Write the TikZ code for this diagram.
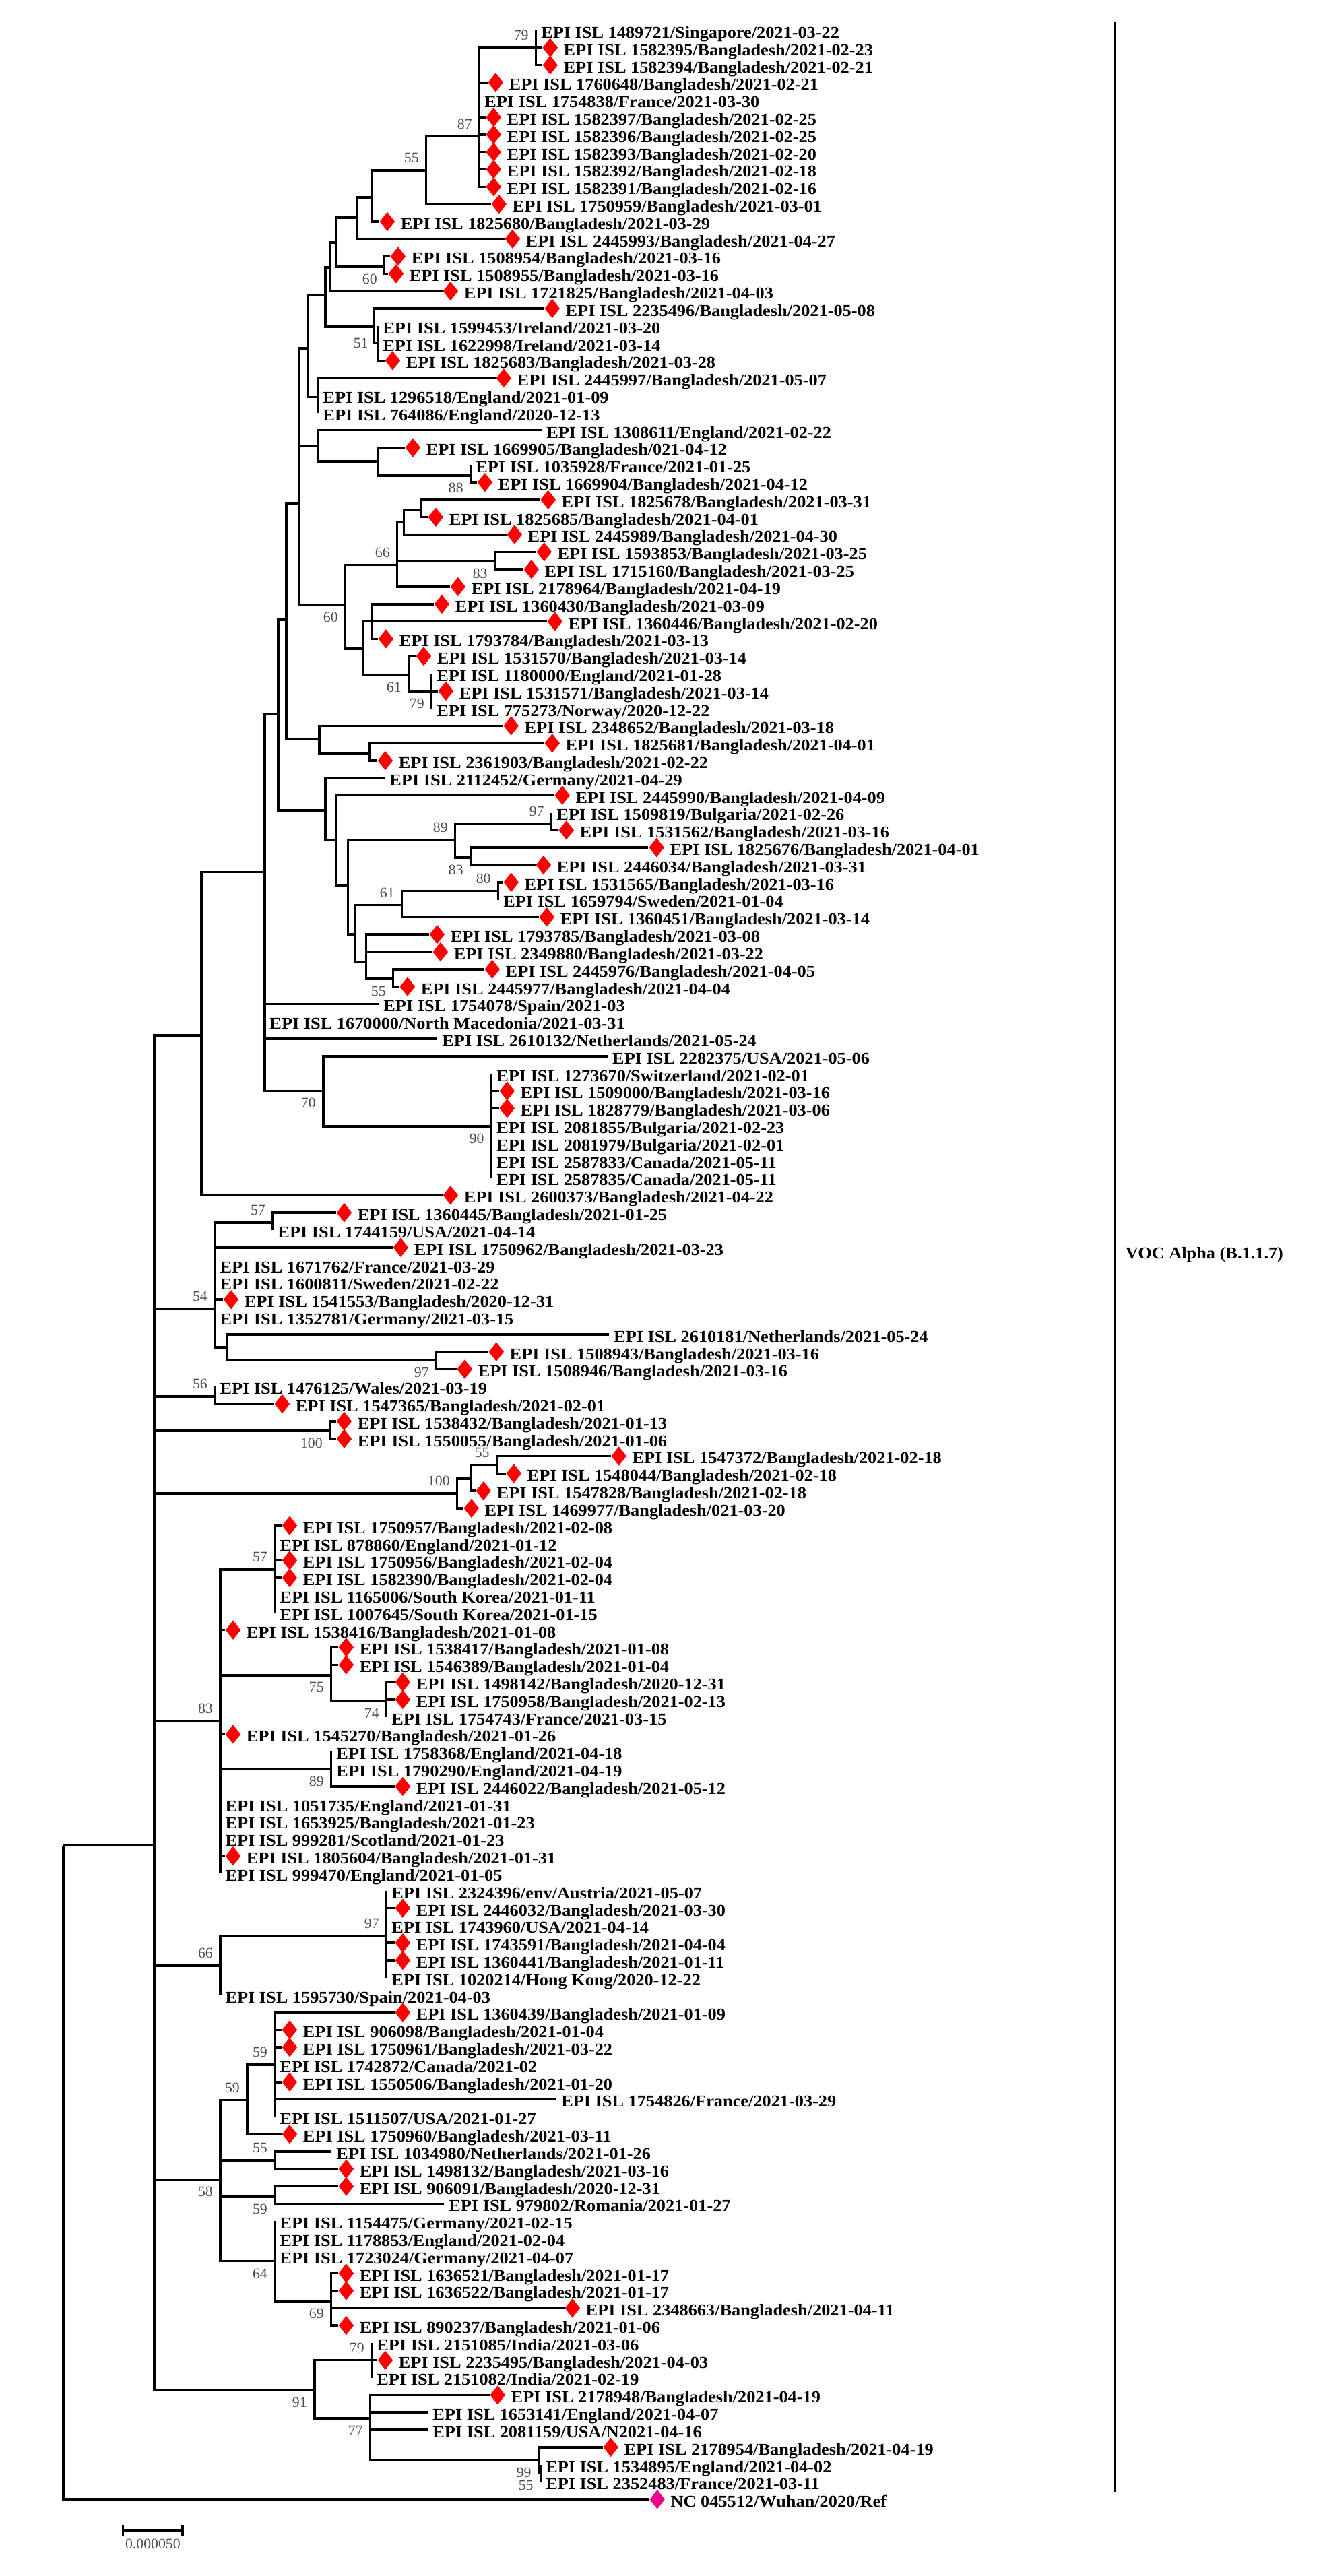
\documentclass[tikz,border=0pt]{standalone}
\usepackage{fontspec}
\setmainfont{Liberation Serif}[FakeStretch=1.07]
\newfontfamily\bsfont{Liberation Serif}
\usetikzlibrary{shapes.geometric,arrows.meta}
\tikzset{
  branch/.style={line width=1pt},
  leaf/.style={anchor=west, inner xsep=0.07cm, inner ysep=0pt, text height=0.7em, text depth=0.05em,
    font=\fontsize{7}{8}\selectfont\bfseries},
  bd/.style={diamond, fill=red, anchor=west, inner sep=0pt, minimum width=0.23cm, minimum height=0.29cm},
  refd/.style={bd, fill=magenta},
  bs/.style={font=\bsfont\fontsize{6.2}{7}\selectfont, text=black!70, inner sep=0.8pt},
  bsa/.style={label={[bs]above left:#1}},
  bsb/.style={label={[bs]below left:#1}},
  bsl/.style={label={[bs]left:#1}},
  voc/.style={anchor=west, inner xsep=0.15cm, font=\fontsize{7}{8}\selectfont\bfseries},
}
\begin{document}
\begin{tikzpicture}[x=0.01cm, y=-0.2581cm, label distance=3pt]
\useasboundingbox (0,-0.7435) rectangle (1959,147.41);

% leaves without marker
\foreach \rw/\xx/\tx in {
1/796/{1489721/Singapore/2021-03-22},
5/712/{1754838/France/2021-03-30},
18/561/{1599453/Ireland/2021-03-20},
19/561/{1622998/Ireland/2021-03-14},
22/472/{1296518/England/2021-01-09},
23/472/{764086/England/2020-12-13},
24/804/{1308611/England/2021-02-22},
26/699/{1035928/France/2021-01-25},
38/641/{1180000/England/2021-01-28},
40/641/{775273/Norway/2020-12-22},
44/571/{2112452/Germany/2021-04-29},
46/819/{1509819/Bulgaria/2021-02-26},
51/740/{1659794/Sweden/2021-01-04},
57/562/{1754078/Spain/2021-03},
58/393/{1670000/North Macedonia/2021-03-31},
59/649/{2610132/Netherlands/2021-05-24},
60/902/{2282375/USA/2021-05-06},
61/730/{1273670/Switzerland/2021-02-01},
64/730/{2081855/Bulgaria/2021-02-23},
65/730/{2081979/Bulgaria/2021-02-01},
66/730/{2587833/Canada/2021-05-11},
67/730/{2587835/Canada/2021-05-11},
70/405/{1744159/USA/2021-04-14},
72/319/{1671762/France/2021-03-29},
73/319/{1600811/Sweden/2021-02-22},
75/319/{1352781/Germany/2021-03-15},
76/904/{2610181/Netherlands/2021-05-24},
79/319/{1476125/Wales/2021-03-19},
88/408/{878860/England/2021-01-12},
91/408/{1165006/South Korea/2021-01-11},
92/408/{1007645/South Korea/2021-01-15},
98/574/{1754743/France/2021-03-15},
100/492/{1758368/England/2021-04-18},
101/492/{1790290/England/2021-04-19},
103/327/{1051735/England/2021-01-31},
104/327/{1653925/Bangladesh/2021-01-23},
105/327/{999281/Scotland/2021-01-23},
107/327/{999470/England/2021-01-05},
108/574/{2324396/env/Austria/2021-05-07},
110/574/{1743960/USA/2021-04-14},
113/574/{1020214/Hong Kong/2020-12-22},
114/327/{1595730/Spain/2021-04-03},
118/408/{1742872/Canada/2021-02},
120/826/{1754826/France/2021-03-29},
121/408/{1511507/USA/2021-01-27},
123/492/{1034980/Netherlands/2021-01-26},
126/659/{979802/Romania/2021-01-27},
127/408/{1154475/Germany/2021-02-15},
128/408/{1178853/England/2021-02-04},
129/408/{1723024/Germany/2021-04-07},
134/552/{2151085/India/2021-03-06},
136/552/{2151082/India/2021-02-19},
138/635/{1653141/England/2021-04-07},
139/635/{2081159/USA/N2021-04-16},
141/803/{1534895/England/2021-04-02},
142/803/{2352483/France/2021-03-11}}
  \node[leaf] (l\rw) at (\xx,\rw) {EPI ISL \tx};

% leaves with red marker
\foreach \rw/\xx/\tx in {
2/805/{1582395/Bangladesh/2021-02-23},
3/805/{1582394/Bangladesh/2021-02-21},
4/724/{1760648/Bangladesh/2021-02-21},
6/721/{1582397/Bangladesh/2021-02-25},
7/721/{1582396/Bangladesh/2021-02-25},
8/721/{1582393/Bangladesh/2021-02-20},
9/721/{1582392/Bangladesh/2021-02-18},
10/721/{1582391/Bangladesh/2021-02-16},
11/729/{1750959/Bangladesh/2021-03-01},
12/563/{1825680/Bangladesh/2021-03-29},
13/749/{2445993/Bangladesh/2021-04-27},
14/579/{1508954/Bangladesh/2021-03-16},
15/576/{1508955/Bangladesh/2021-03-16},
16/657/{1721825/Bangladesh/2021-04-03},
17/808/{2235496/Bangladesh/2021-05-08},
20/571/{1825683/Bangladesh/2021-03-28},
21/736/{2445997/Bangladesh/2021-05-07},
25/601/{1669905/Bangladesh/021-04-12},
27/708/{1669904/Bangladesh/2021-04-12},
28/802/{1825678/Bangladesh/2021-03-31},
29/635/{1825685/Bangladesh/2021-04-01},
30/752/{2445989/Bangladesh/2021-04-30},
31/796/{1593853/Bangladesh/2021-03-25},
32/777/{1715160/Bangladesh/2021-03-25},
33/668/{2178964/Bangladesh/2021-04-19},
34/644/{1360430/Bangladesh/2021-03-09},
35/812/{1360446/Bangladesh/2021-02-20},
36/561/{1793784/Bangladesh/2021-03-13},
37/617/{1531570/Bangladesh/2021-03-14},
39/650/{1531571/Bangladesh/2021-03-14},
41/747/{2348652/Bangladesh/2021-03-18},
42/808/{1825681/Bangladesh/2021-04-01},
43/560/{2361903/Bangladesh/2021-02-22},
45/823/{2445990/Bangladesh/2021-04-09},
47/829/{1531562/Bangladesh/2021-03-16},
48/963/{1825676/Bangladesh/2021-04-01},
49/795/{2446034/Bangladesh/2021-03-31},
50/747/{1531565/Bangladesh/2021-03-16},
52/800/{1360451/Bangladesh/2021-03-14},
53/637/{1793785/Bangladesh/2021-03-08},
54/642/{2349880/Bangladesh/2021-03-22},
55/719/{2445976/Bangladesh/2021-04-05},
56/593/{2445977/Bangladesh/2021-04-04},
62/741/{1509000/Bangladesh/2021-03-16},
63/741/{1828779/Bangladesh/2021-03-06},
68/657/{2600373/Bangladesh/2021-04-22},
69/499/{1360445/Bangladesh/2021-01-25},
71/583/{1750962/Bangladesh/2021-03-23},
74/331/{1541553/Bangladesh/2020-12-31},
77/725/{1508943/Bangladesh/2021-03-16},
78/678/{1508946/Bangladesh/2021-03-16},
80/407/{1547365/Bangladesh/2021-02-01},
81/499/{1538432/Bangladesh/2021-01-13},
82/499/{1550055/Bangladesh/2021-01-06},
83/907/{1547372/Bangladesh/2021-02-18},
84/751/{1548044/Bangladesh/2021-02-18},
85/706/{1547828/Bangladesh/2021-02-18},
86/688/{1469977/Bangladesh/021-03-20},
87/418/{1750957/Bangladesh/2021-02-08},
89/418/{1750956/Bangladesh/2021-02-04},
90/418/{1582390/Bangladesh/2021-02-04},
93/334/{1538416/Bangladesh/2021-01-08},
94/502/{1538417/Bangladesh/2021-01-08},
95/502/{1546389/Bangladesh/2021-01-04},
96/586/{1498142/Bangladesh/2020-12-31},
97/586/{1750958/Bangladesh/2021-02-13},
99/334/{1545270/Bangladesh/2021-01-26},
102/586/{2446022/Bangladesh/2021-05-12},
106/334/{1805604/Bangladesh/2021-01-31},
109/586/{2446032/Bangladesh/2021-03-30},
111/586/{1743591/Bangladesh/2021-04-04},
112/586/{1360441/Bangladesh/2021-01-11},
115/586/{1360439/Bangladesh/2021-01-09},
116/418/{906098/Bangladesh/2021-01-04},
117/418/{1750961/Bangladesh/2021-03-22},
119/418/{1550506/Bangladesh/2021-01-20},
122/418/{1750960/Bangladesh/2021-03-11},
124/502/{1498132/Bangladesh/2021-03-16},
125/502/{906091/Bangladesh/2020-12-31},
130/502/{1636521/Bangladesh/2021-01-17},
131/502/{1636522/Bangladesh/2021-01-17},
132/838/{2348663/Bangladesh/2021-04-11},
133/502/{890237/Bangladesh/2021-01-06},
135/560/{2235495/Bangladesh/2021-04-03},
137/727/{2178948/Bangladesh/2021-04-19},
140/895/{2178954/Bangladesh/2021-04-19}}
  {\node[bd] (l\rw) at (\xx,\rw) {};
   \node[leaf] (t\rw) at (l\rw.east) {EPI ISL \tx};}

% reference genome
\node[refd] (l143) at (964,143) {};
\node[leaf] (t143) at (l143.east) {NC 045512/Wuhan/2020/Ref};

% inner nodes, bootstrap above
\foreach \nm/\xx/\rw/\bv in {b79a/796/2/79, b87/712/7.1/87, b55a/633/9.05/55,
  b66a/590/31.75/66, b97a/819/46.64/97, b89a/676/47.57/89, b80/740/50.5/80,
  b61b/597/51.3/61, b57a/405/69.58/57, b54/319/74.54/54, b56/319/79.57/56,
  b55c/738/83.5/55, b100b/679/85.15/100, b57b/408/89.53/57, b83c/327/98.25/83,
  b97c/574/110.6/97, b66b/327/112.3/66, b59a/408/118/59, b59b/367/120.03/59,
  b55d/408/123.5/55, b79c/552/135/79}
  \coordinate[bsa=\bv] (\nm) at (\xx,\rw);
% inner nodes, bootstrap below
\foreach \nm/\xx/\rw/\bv in {b60a/571/14.6/60, b88/699/26.6/88, b83a/735/31.55/83,
  b60b/513/34.05/60, b61a/607/38.1/61, b79b/641/39/79, b83b/699/48.58/83,
  b55b/584/55.55/55, b70/480/62/70, b90/730/64.04/90, b97b/648/77.5/97,
  b100a/490/81.55/100, b75/492/95.6/75, b74/574/97.1/74, b89b/492/101/89,
  b58/327/124.6/58, b59c/408/125.6/59, b64/408/129.3/64, b69/492/131.6/69,
  b91/467/136.7/91, b77/550/138.35/77, b99/800/140.75/99, b55e/803/141.5/55}
  \coordinate[bsb=\bv] (\nm) at (\xx,\rw);
\coordinate[bsl=51] (b51) at (561,19);
% inner nodes without support value
\foreach \nm/\xx/\rw in {u1/553/10.6, u2/531/11.77, u3/500/13.2, u4/490/14.64,
  u5/556/18.05, u6/483/16.23, u7/472/22.1, u8/457/19.29, u9/561/25.8, u10/472/24.9,
  u11/625/28.6, u12/600/29.28, u13/553/35, u14/539/36.57, u15/444/28.2, u16/549/42.6,
  u17/474/41.76, u18/425/34.9, u19/544/54.58, u20/528/53, u21/517/50.2, u22/500/47.57,
  u23/483/45.87, u24/413/40.3, u25/393/49.4, u26/299/58.8, u27/337/76.75, u28/699/84.3,
  u29/229/105.4, root/94/105.4}
  \coordinate (\nm) at (\xx,\rw);

% branches
\foreach \pa/\chs in {
b79a/{l1,l2,l3}, b87/{b79a,l4,l5,l6,l7,l8,l9,l10}, b55a/{b87,l11}, u1/{b55a,l12},
u2/{u1,l13}, b60a/{l14,l15}, u3/{u2,b60a}, u4/{u3,l16}, b51/{l18,l19,l20},
u5/{l17,b51}, u6/{u4,u5}, u7/{l21,l22,l23}, u8/{u6,u7}, b88/{l26,l27},
u9/{l25,b88}, u10/{l24,u9}, u11/{l28,l29}, u12/{u11,l30}, b83a/{l31,l32},
b66a/{u12,b83a,l33}, u13/{l34,l35,l36}, b79b/{l38,l39,l40}, b61a/{l37,b79b},
u14/{u13,b61a}, b60b/{b66a,u14}, u15/{u8,u10,b60b}, u16/{l42,l43}, u17/{l41,u16},
u18/{u15,u17}, b97a/{l46,l47}, b83b/{l48,l49}, b89a/{b97a,b83b}, b80/{l50,l51},
b61b/{b80,l52}, b55b/{l55,l56}, u19/{l53,l54,b55b}, u20/{b61b,u19}, u21/{b89a,u20},
u22/{l45,u21}, u23/{l44,u22}, u24/{u18,u23}, b90/{l61,l62,l63,l64,l65,l66,l67},
b70/{l60,b90}, u25/{u24,l57,l58,l59,b70}, u26/{u25,l68}, b57a/{l69,l70},
b97b/{l77,l78}, u27/{l76,b97b}, b54/{b57a,l71,l72,l73,l74,l75,u27}, b56/{l79,l80},
b100a/{l81,l82}, b55c/{l83,l84}, u28/{b55c,l85}, b100b/{u28,l86},
b57b/{l87,l88,l89,l90,l91,l92}, b74/{l96,l97,l98}, b75/{l94,l95,b74},
b89b/{l100,l101,l102}, b83c/{b57b,l93,b75,l99,b89b,l103,l104,l105,l106,l107},
b97c/{l108,l109,l110,l111,l112,l113}, b66b/{b97c,l114},
b59a/{l115,l116,l117,l118,l119,l120,l121}, b59b/{b59a,l122}, b55d/{l123,l124},
b59c/{l125,l126}, b69/{l130,l131,l132,l133}, b64/{l127,l128,l129,b69},
b58/{b59b,b55d,b59c,b64}, b79c/{l134,l135,l136}, b55e/{l141,l142}, b99/{l140,b55e},
b77/{l137,l138,l139,b99}, b91/{b79c,b77},
u29/{u26,b54,b56,b100a,b100b,b83c,b66b,b58,b91}, root/{u29,l143}}
  {\foreach \ch in \chs {\draw[branch] (\pa) |- (\ch);}}

% clade bar
\coordinate (vtop) at (1656,0.535);
\coordinate (vbot) at (1656,142.6);
\draw[line width=0.6pt] (vtop) -- (vbot);
\node[voc] (voc) at (1656,71.4) {VOC Alpha (B.1.1.7)};

% scale
\coordinate (sbl) at (181,144.78);
\coordinate (sbr) at (273,144.78);
\draw[branch, {Bar[width=4.5pt]}-{Bar[width=4.5pt]}] (sbl) -- (sbr);
\node[bs] (sbtext) at (227,145.56) {0.000050};
\end{tikzpicture}
\end{document}
